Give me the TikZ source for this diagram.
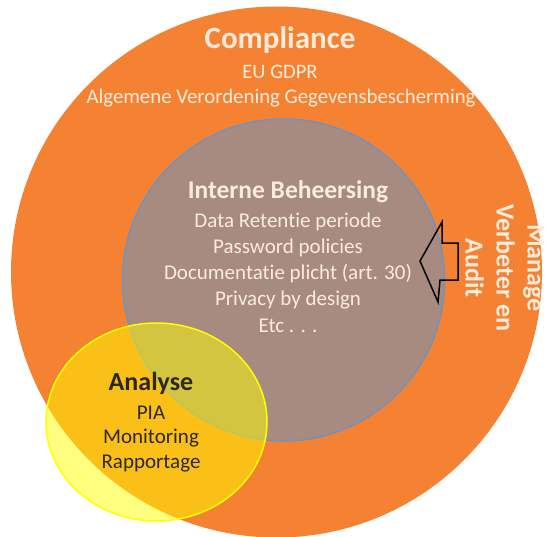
\documentclass[tikz,border=0pt]{standalone}
\usepackage{fontspec}
\setmainfont{Carlito}[Ligatures=NoCommon]
\definecolor{orangeC}{RGB}{245,130,50}
\definecolor{brownC}{RGB}{167,139,129}
\definecolor{blueC}{RGB}{112,146,190}
\definecolor{creamC}{RGB}{253,236,220}
\definecolor{yellowC}{RGB}{255,255,0}
\definecolor{darkT}{RGB}{45,40,30}
\tikzset{
  fs/.style={font=\fontsize{#1}{#1}\selectfont},
  lighttext/.style={text=creamC, align=center, inner sep=0pt},
  darktext/.style={text=darkT, align=center, inner sep=0pt},
}
\begin{document}
\begin{tikzpicture}[x=1pt,y=-1pt]
\useasboundingbox (0,0) rectangle (549,536);
\begin{scope}
\clip (0,0) rectangle (549,536);
% outer circle
\fill[orangeC] (276.5,272) circle [radius=265.5pt];
% inner circle
\filldraw[fill=brownC, draw=blueC, line width=1.5pt] (283.5,280) circle [radius=161pt];
% yellow circle
\filldraw[fill=yellowC, fill opacity=0.5, draw=yellowC, line width=1.5pt] (156.5,422) ellipse [x radius=110.5pt, y radius=99pt];
\end{scope}
% compliance texts
\node[lighttext, font=\bfseries\fontsize{31}{31}\selectfont] (compl) at (280,40) {Compliance};
\node[lighttext, fs=20.5] (gdpr) at (280,72) {EU GDPR};
\node[lighttext, fs=20.8] (avg) at (281,98) {Algemene Verordening Gegevensbescherming};
% interne beheersing
\node[lighttext, font=\bfseries\fontsize{25.5}{25.5}\selectfont] (ib) at (288,192) {Interne Beheersing};
\node[lighttext, fs=21] (ib1) at (288,222) {Data Retentie periode};
\node[lighttext, fs=21] (ib2) at (288,248) {Password policies};
\node[lighttext, fs=21] (ib3) at (288,274) {Documentatie plicht (art. 30)};
\node[lighttext, fs=21] (ib4) at (288,300) {Privacy by design};
\node[lighttext, fs=21] (ib5) at (288,326) {Etc . . .};
% analyse
\node[darktext, font=\bfseries\fontsize{26}{26}\selectfont] (an) at (151,383) {Analyse};
\node[darktext, fs=21] (an1) at (151,413) {PIA};
\node[darktext, fs=21] (an2) at (151,438) {Monitoring};
\node[darktext, fs=21] (an3) at (151,464) {Rapportage};
% vertical text
\node[lighttext, rotate=-90, font=\bfseries\fontsize{26}{31}\selectfont] (mva) at (505,268) {Manage\\Verbeter en\\Audit};
% block arrow
\draw[black, line width=1.5pt, line join=miter] (420,261) -- (442,222) -- (442,243) -- (458,243) -- (458,280) -- (440,280) -- (438,302) -- cycle;
\end{tikzpicture}
\end{document}
